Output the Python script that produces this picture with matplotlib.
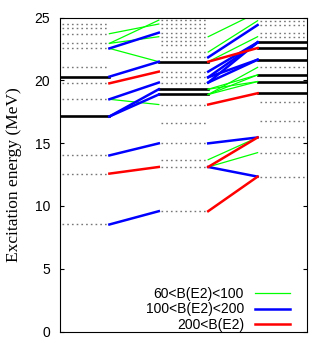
# Level scheme with E2 transitions between three columns of states
import matplotlib.pyplot as plt

# Level energies (MeV). solid = black lines, dotted = grey dotted lines
col1_solid = [20.29, 17.12]
col1_dotted = [24.52, 24.13, 23.71, 22.94, 22.54, 21.09, 19.76, 18.49, 14.02, 12.57, 8.52]
col2_solid = [21.48, 19.29, 18.87]
col2_dotted = [24.79, 24.48, 24.16, 23.79, 23.47, 23.15, 22.78, 22.25, 21.83,
               20.69, 20.24, 19.82, 18.07, 16.59, 14.98, 13.68, 13.10, 9.58]
col3_solid = [23.02, 22.57, 21.64, 20.43, 19.90, 18.97]
col3_dotted = [24.74, 24.40, 23.73, 23.47, 21.03, 18.25, 16.75, 15.45, 14.24, 12.33]

# Transitions (E start, E end), column 1 -> column 2
green_12 = [(23.71, 24.48), (22.94, 24.79), (22.94, 23.47), (22.54, 21.48), (18.49, 18.07)]
blue_12 = [(22.54, 23.79), (20.29, 21.48), (18.49, 19.82), (17.12, 19.29),
           (17.12, 18.87), (14.02, 14.98), (8.52, 9.58)]
red_12 = [(19.76, 20.69), (12.57, 13.10)]

# column 2 -> column 3
green_23 = [(23.47, 25.40), (22.25, 24.74), (21.48, 23.47), (19.29, 20.43), (18.87, 20.43),
            (19.29, 19.90), (18.87, 19.90), (18.87, 21.03), (13.68, 15.45), (13.10, 14.24)]
blue_23 = [(21.83, 24.40), (20.69, 23.02), (20.24, 23.02), (19.82, 23.02), (20.24, 21.64),
           (19.82, 21.64), (14.98, 15.45), (13.10, 12.33)]
red_23 = [(21.48, 22.57), (18.07, 18.97), (13.10, 15.45), (9.58, 12.33)]

labels = ['60<B(E2)<100', '100<B(E2)<200', '200<B(E2)']
colors = ['#00ff00', '#0000ff', '#ff0000']
widths = [0.9, 1.8, 1.8]

plt.rcParams['font.family'] = 'Liberation Sans'
fig = plt.figure(figsize=(3.32, 3.49), dpi=100)
ax = fig.add_axes([60 / 332, 17.5 / 349, 247 / 332, 314 / 349])

# x spans of the three columns
cols = [(0, 1), (2, 3), (4, 5)]
solids = [col1_solid, col2_solid, col3_solid]
dotteds = [col1_dotted, col2_dotted, col3_dotted]

for (x0, x1), sol, dot in zip(cols, solids, dotteds):
    for e in dot:
        ax.plot([x0 + 0.05, x1], [e, e], color='#777777', lw=1, ls=(0, (1.2, 2.2)))
    for e in sol:
        ax.plot([x0, x1], [e, e], color='black', lw=1.9)

groups = [(green_12, green_23), (blue_12, blue_23), (red_12, red_23)]
for (g12, g23), c, w, lab in zip(groups, colors, widths, labels):
    for a, b in g12:
        ax.plot([1, 2], [a, b], color=c, lw=w)
    for a, b in g23:
        ax.plot([3, 4], [a, b], color=c, lw=w)
    ax.plot([], [], color=c, lw=w, label=lab)

ax.set_xlim(0, 5)
ax.set_ylim(0, 25)
ax.set_xticks([])
ax.set_yticks([0, 5, 10, 15, 20, 25])
ax.tick_params(axis='y', direction='in', right=True, length=3, labelsize=10, pad=7)
ax.set_ylabel('Excitation energy (MeV)', family='Liberation Serif', fontsize=12.5, labelpad=9)

ax.legend(loc='lower right', bbox_to_anchor=(0.931, 0.0), markerfirst=False, frameon=False,
          fontsize=10, handlelength=2.5, handletextpad=0.8, labelspacing=0.08,
          borderpad=0, borderaxespad=0)

plt.savefig('out.png')
